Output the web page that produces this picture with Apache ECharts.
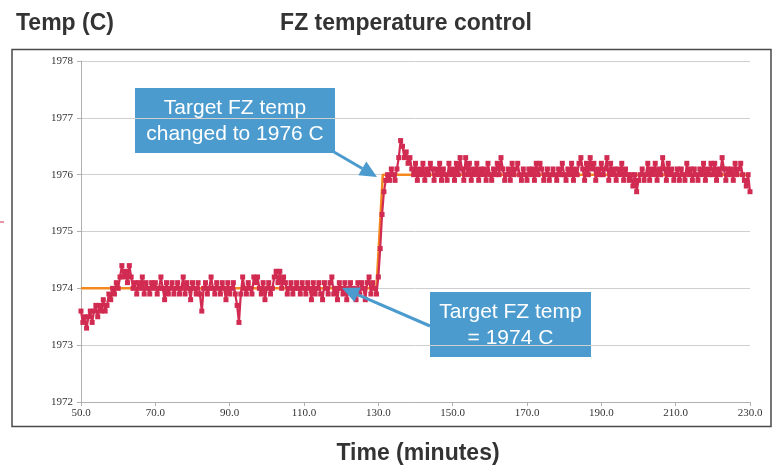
<!DOCTYPE html>
<html>
<head>
<meta charset="utf-8">
<script src="https://cdn.jsdelivr.net/npm/echarts@6/dist/echarts.min.js"></script>
<style>
  html, body { margin: 0; padding: 0; background: #fff; }
  #chart { width: 775px; height: 466px; }
</style>
</head>
<body>
<div id="chart"></div>
<script>
// sampling: one reading every half minute from 50 min
const startTime = 50
const stepTime = 0.5

// measured FZ temperature, 50.0 .. 129.5 min (10 readings per row = 5 min)
const tempBefore = [
  1973.6, 1973.4, 1973.5, 1973.3, 1973.5, 1973.6, 1973.4, 1973.6, 1973.7, 1973.5,
  1973.7, 1973.6, 1973.8, 1973.6, 1973.7, 1973.9, 1973.8, 1974.0, 1973.9, 1974.1,
  1974.0, 1974.2, 1974.4, 1974.2, 1974.3, 1974.1, 1974.4, 1974.2, 1974.0, 1974.1,
  1973.9, 1974.1, 1974.0, 1974.2, 1973.9, 1974.1, 1974.0, 1973.9, 1974.1, 1974.0,
  1974.1, 1973.9, 1974.0, 1974.2, 1974.0, 1973.8, 1974.1, 1973.9, 1974.0, 1974.1,
  1973.9, 1974.0, 1974.1, 1973.9, 1974.0, 1974.2, 1973.9, 1974.1, 1974.0, 1973.8,
  1974.1, 1974.0, 1973.9, 1974.1, 1973.9, 1973.6, 1974.0, 1974.1, 1973.9, 1974.0,
  1974.2, 1974.0, 1973.9, 1974.1, 1974.0, 1973.9, 1974.1, 1974.0, 1973.8, 1974.1,
  1973.9, 1974.0, 1974.1, 1973.9, 1973.7, 1973.4, 1973.9, 1974.2, 1974.0, 1973.9,
  1974.1, 1974.0, 1973.9, 1974.2, 1974.1, 1974.2, 1974.0, 1973.9, 1974.1, 1973.8,
  1974.0, 1974.1, 1973.9, 1974.0, 1974.2, 1974.3, 1974.1, 1974.3, 1974.0, 1974.2,
  1974.1, 1973.9, 1974.0, 1974.1, 1973.9, 1974.0, 1974.1, 1974.0, 1973.9, 1974.1,
  1974.0, 1973.9, 1974.1, 1974.0, 1973.8, 1974.1, 1973.9, 1974.0, 1974.1, 1973.9,
  1973.8, 1974.1, 1974.0, 1973.9, 1974.1, 1974.2, 1973.9, 1974.0, 1973.8, 1974.1,
  1974.0, 1973.9, 1974.1, 1973.8, 1974.0, 1974.1, 1973.9, 1974.0, 1973.8, 1974.1,
  1973.9, 1974.1, 1974.0, 1973.8, 1974.1, 1974.2, 1973.9, 1974.1, 1974.0, 1973.9
]

// measured FZ temperature, 130.0 .. 230.0 min
const tempAfter = [
  1974.2, 1974.7, 1975.3, 1975.7, 1975.9, 1976.0, 1975.9, 1976.1, 1976.0, 1975.9,
  1976.1, 1976.3, 1976.6, 1976.5, 1976.3, 1976.4, 1976.2, 1976.3, 1976.1, 1976.0,
  1976.2, 1975.9, 1976.1, 1976.0, 1976.2, 1975.9, 1976.1, 1976.0, 1976.2, 1976.1,
  1975.9, 1976.1, 1976.0, 1976.2, 1975.9, 1976.1, 1976.0, 1975.9, 1976.2, 1976.0,
  1976.1, 1975.9, 1976.2, 1976.0, 1976.3, 1976.1, 1975.9, 1976.3, 1976.0, 1976.2,
  1975.9, 1976.1, 1976.0, 1976.2, 1975.9, 1976.1, 1976.0, 1976.1, 1975.9, 1976.2,
  1976.0, 1975.9, 1976.1, 1976.0, 1976.2, 1976.0, 1976.3, 1976.1, 1975.9, 1976.0,
  1976.1, 1975.9, 1976.2, 1976.0, 1976.1, 1976.2, 1976.0, 1975.9, 1976.1, 1976.0,
  1975.9, 1976.1, 1976.0, 1976.1, 1975.9, 1976.2, 1976.0, 1976.2, 1976.1, 1975.9,
  1976.0, 1976.1, 1975.9, 1976.0, 1976.1, 1976.0, 1975.9, 1976.1, 1976.0, 1976.2,
  1976.0, 1975.9, 1976.1, 1976.0, 1976.2, 1975.9, 1976.1, 1976.0, 1976.2, 1976.3,
  1976.1, 1975.9, 1976.2, 1976.0, 1976.3, 1976.1, 1976.2, 1975.9, 1976.1, 1976.0,
  1976.2, 1976.0, 1976.1, 1976.3, 1975.9, 1976.2, 1976.0, 1976.1, 1975.9, 1976.1,
  1976.0, 1976.2, 1975.9, 1976.1, 1976.0, 1975.9, 1976.0, 1975.8, 1976.0, 1975.7,
  1975.9, 1976.0, 1976.1, 1975.9, 1976.0, 1976.2, 1975.9, 1976.1, 1976.0, 1976.2,
  1975.9, 1976.1, 1976.0, 1976.3, 1976.1, 1975.9, 1976.2, 1976.0, 1976.1, 1975.9,
  1976.0, 1976.1, 1975.9, 1976.1, 1976.0, 1975.9, 1976.2, 1976.0, 1976.1, 1975.9,
  1976.1, 1976.0, 1975.9, 1976.1, 1976.0, 1976.2, 1975.9, 1976.1, 1976.0, 1976.2,
  1976.0, 1976.2, 1975.9, 1976.1, 1976.0, 1976.3, 1976.1, 1975.9, 1976.1, 1976.0,
  1976.1, 1975.9, 1976.2, 1976.0, 1976.1, 1976.2, 1976.0, 1975.9, 1975.8, 1976.0,
  1975.7
]

// target (setpoint) line
const targetTime = [50, 129.5, 131.2, 230]
const targetTemp = [1974, 1974, 1976, 1976]

const xTicks = { min: 50, max: 230, interval: 20 }
const yTicks = { min: 1972, max: 1978, interval: 1 }

const temps = tempBefore.concat(tempAfter)
const tempData = temps.map((v, i) => [startTime + i * stepTime, v])
const targetData = targetTime.map((t, i) => [t, targetTemp[i]])

const chart = echarts.init(document.getElementById('chart'))

const boxBlue = '#4b9bcf'
const red = '#d12b52'
const sans = '"Liberation Sans", Arial, sans-serif'
const serif = '"Liberation Serif", "Times New Roman", serif'

// arrow from (x1,y1) to tip (x2,y2)
const arrow = (x1, y1, x2, y2) => {
  const dx = x2 - x1, dy = y2 - y1
  const len = Math.sqrt(dx * dx + dy * dy)
  const ux = dx / len, uy = dy / len
  const head = 17, half = 8
  const bx = x2 - ux * head, by = y2 - uy * head
  return [
    {
      type: 'line',
      shape: { x1: x1, y1: y1, x2: bx, y2: by },
      style: { stroke: boxBlue, lineWidth: 3 },
      z: 100
    },
    {
      type: 'polygon',
      shape: { points: [[x2, y2], [bx - uy * half, by + ux * half], [bx + uy * half, by - ux * half]] },
      style: { fill: boxBlue },
      z: 100
    }
  ]
}

const callout = (x, y, w, h, text) => ({
  type: 'group',
  z: 100,
  children: [
    { type: 'rect', shape: { x: x, y: y, width: w, height: h }, style: { fill: boxBlue } },
    {
      type: 'text',
      x: x + w / 2,
      y: y + h / 2 + 1,
      style: {
        text: text,
        fill: '#fff',
        font: '21px ' + sans,
        align: 'center',
        verticalAlign: 'middle',
        lineHeight: 26
      }
    }
  ]
})

const option = {
  animation: false,
  backgroundColor: '#fff',
  title: [
    {
      text: 'Temp (C)',
      left: 11,
      top: 7,
      textStyle: { fontFamily: sans, fontSize: 23, fontWeight: 'bold', color: '#333' }
    },
    {
      text: 'FZ temperature control',
      left: 401,
      top: 7,
      textAlign: 'center',
      textStyle: { fontFamily: sans, fontSize: 23, fontWeight: 'bold', color: '#333' }
    },
    {
      text: 'Time (minutes)',
      left: 413,
      top: 437,
      textAlign: 'center',
      textStyle: { fontFamily: sans, fontSize: 23, fontWeight: 'bold', color: '#333' }
    }
  ],
  grid: {
    left: 81,
    right: 25,
    top: 61,
    bottom: 64
  },
  xAxis: {
    type: 'value',
    min: xTicks.min,
    max: xTicks.max,
    interval: xTicks.interval,
    axisLine: { lineStyle: { color: '#b0b0b0', width: 1 } },
    axisTick: { show: true, length: 4, lineStyle: { color: '#b0b0b0' } },
    axisLabel: {
      formatter: v => v.toFixed(1),
      fontFamily: serif,
      fontSize: 11,
      color: '#333',
      margin: 6
    },
    splitLine: { show: false }
  },
  yAxis: {
    type: 'value',
    min: yTicks.min,
    max: yTicks.max,
    interval: yTicks.interval,
    axisLine: { show: true, lineStyle: { color: '#b0b0b0', width: 1 } },
    axisTick: { show: true, length: 4, lineStyle: { color: '#b0b0b0' } },
    axisLabel: {
      formatter: v => String(v),
      fontFamily: serif,
      fontSize: 11,
      color: '#333',
      margin: 8
    },
    splitLine: { lineStyle: { color: '#cfcfcf', width: 1 } }
  },
  series: [
    {
      name: 'Target',
      type: 'line',
      data: targetData,
      showSymbol: false,
      lineStyle: { color: '#f5891f', width: 2.5 },
      z: 2
    },
    {
      name: 'Temp',
      type: 'line',
      data: tempData,
      symbol: 'rect',
      symbolSize: 5,
      showAllSymbol: true,
      lineStyle: { color: red, width: 2.2 },
      itemStyle: { color: red },
      z: 3
    }
  ],
  graphic: [
    {
      type: 'rect',
      shape: { x: 12, y: 49.5, width: 759, height: 377 },
      style: { fill: null, stroke: '#4a4a4a', lineWidth: 1.5 },
      silent: true
    },
    {
      type: 'line',
      shape: { x1: 0, y1: 222, x2: 4, y2: 222 },
      style: { stroke: red, lineWidth: 1 }
    },
    callout(135, 88, 200, 65, 'Target FZ temp\nchanged to 1976 C'),
    callout(430, 292, 161, 65, 'Target FZ temp\n= 1974 C'),
    ...arrow(334, 152, 377, 177),
    ...arrow(430, 326, 342, 288)
  ]
}

chart.setOption(option)
</script>
</body>
</html>
